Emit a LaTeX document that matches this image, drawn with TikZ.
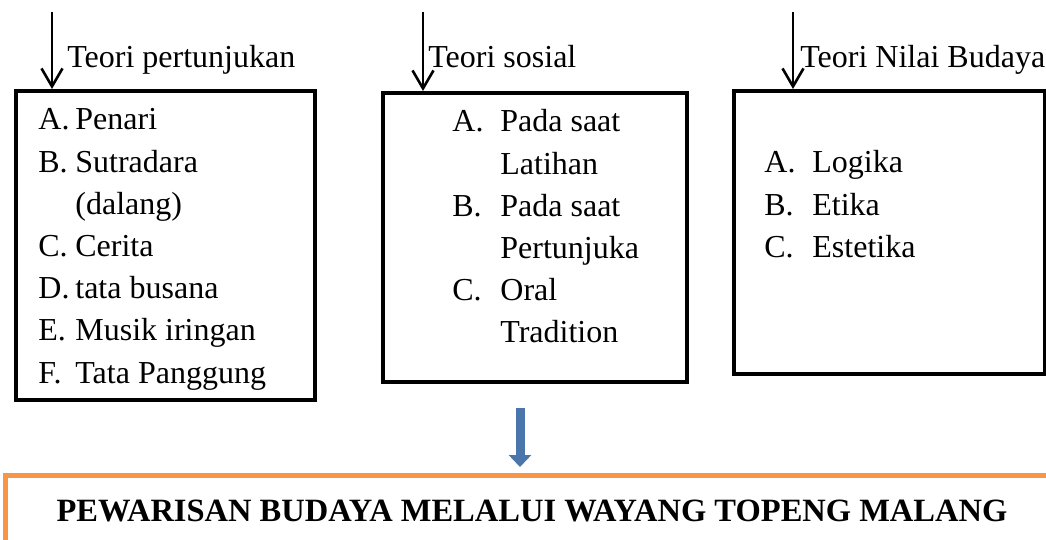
\documentclass[tikz,border=0pt]{standalone}
\usepackage{fontspec}
\setmainfont{Liberation Serif}
\usetikzlibrary{arrows.meta}

\definecolor{oranye}{HTML}{F79646}
\definecolor{biru}{HTML}{4A76AC}

\tikzset{
  kotak/.style={draw=black, line width=2pt, inner sep=0pt, anchor=north west},
  teks/.style={inner sep=0pt, anchor=base west, font=\rmfamily\fontsize{16}{21.1}\selectfont},
  panah/.style={line width=1.3pt, -{Straight Barb[length=9pt,width=10.5pt]}},
}

\begin{document}
\begin{tikzpicture}[x=0.5pt, y=-0.5pt]
  \useasboundingbox (0,0) rectangle (1046,540);
  \clip (0,0) rectangle (1046,540);

  % kotak teori
  \node[kotak, minimum width=149.5pt, minimum height=154.5pt] (teori1) at (14,89) {};
  \node[kotak, minimum width=152pt, minimum height=144.5pt] (teori2) at (381,91) {};
  \node[kotak, minimum width=155.5pt, minimum height=141.5pt] (teori3) at (732,89) {};

  % judul teori
  \node[teks] (lab1) at (67,68) {Teori pertunjukan};
  \node[teks] (lab2) at (428,68) {Teori sosial};
  \node[teks] (lab3) at (800,68) {Teori Nilai Budaya};

  % isi kotak
  \node[teks] (isi1) at (38,130) {%
    \begin{tabular}[t]{@{}p{18.5pt}@{}l@{}}
      A. & Penari\\
      B. & Sutradara\\
         & (dalang)\\
      C. & Cerita\\
      D. & tata busana\\
      E. & Musik iringan\\
      F. & Tata Panggung
    \end{tabular}};
  \node[teks] (isi2) at (452,132) {%
    \begin{tabular}[t]{@{}p{24pt}@{}l@{}}
      A. & Pada saat\\
         & Latihan\\
      B. & Pada saat\\
         & Pertunjuka\\
      C. & Oral\\
         & Tradition
    \end{tabular}};
  \node[teks] (isi3) at (764,173) {%
    \begin{tabular}[t]{@{}p{24pt}@{}l@{}}
      A. & Logika\\
      B. & Etika\\
      C. & Estetika
    \end{tabular}};

  % panah masuk
  \coordinate (a1) at (52,12);
  \coordinate (a2) at (423,12);
  \coordinate (a3) at (793,12);
  \draw[panah] (a1) -- (a1 |- teori1.north);
  \draw[panah] (a2) -- (a2 |- teori2.north);
  \draw[panah] (a3) -- (a3 |- teori3.north);

  % kotak hasil
  \node[kotak, draw=oranye, line width=2.5pt, minimum width=560pt, minimum height=60pt] (hasil) at (3,473) {};
  \node[inner sep=0pt, anchor=base, font=\rmfamily\bfseries\fontsize{16.25}{19}\selectfont] (judul) at (532,521)
    {PEWARISAN BUDAYA MELALUI WAYANG TOPENG MALANG};

  % panah biru
  \coordinate (b1) at (520,408);
  \draw[biru, line width=4.5pt, shorten >=3pt, -{Triangle[width=11pt,length=6pt]}] (b1) -- (b1 |- hasil.north);
\end{tikzpicture}
\end{document}
